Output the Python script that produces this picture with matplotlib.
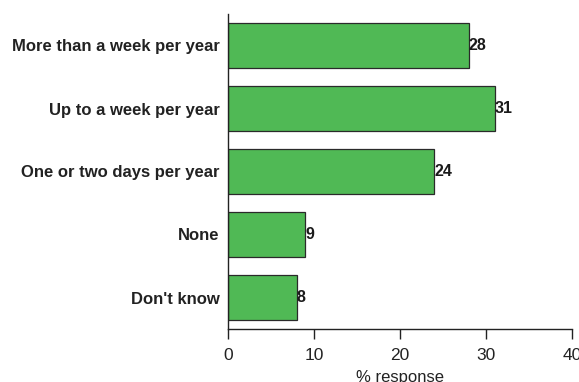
import matplotlib
matplotlib.use("Agg")
import matplotlib.pyplot as plt

categories = [
    "More than a week per year",
    "Up to a week per year",
    "One or two days per year",
    "None",
    "Don't know",
]
values = [28, 31, 24, 9, 8]
xticks = [0, 10, 20, 30, 40]

plt.rcParams["font.family"] = ["Liberation Sans", "DejaVu Sans"]

fig = plt.figure(figsize=(5.79, 3.82), dpi=100)
ax = fig.add_axes([228 / 579, 1 - 329 / 382, 344 / 579, 315 / 382])

pos = list(range(len(categories)))
ax.barh(pos, values, height=0.714, color="#50B955", edgecolor="#2a2a2a", linewidth=0.9)

for p, v in zip(pos, values):
    ax.text(v, p, f"{v}", va="center", ha="left", fontsize=11.5, fontweight="bold", color="#1a1a1a")

ax.set_ylim(len(categories) - 0.5, -0.5)
ax.set_xlim(0, 40)
ax.set_yticks(pos)
ax.set_yticklabels(categories, fontsize=12, fontweight="bold", color="#222222")
ax.tick_params(axis="y", length=0, pad=6)
ax.set_xticks(xticks)
ax.set_xticklabels([str(t) for t in xticks], fontsize=12.5, color="#222222")
ax.tick_params(axis="x", direction="out", length=7, width=1, color="#222222", pad=7)
ax.set_xlabel("% response", fontsize=12, color="#222222", labelpad=5)

for s in ["top", "right"]:
    ax.spines[s].set_visible(False)
for s in ["left", "bottom"]:
    ax.spines[s].set_color("#222222")
    ax.spines[s].set_linewidth(1)

fig.savefig("out.png", dpi=100)
